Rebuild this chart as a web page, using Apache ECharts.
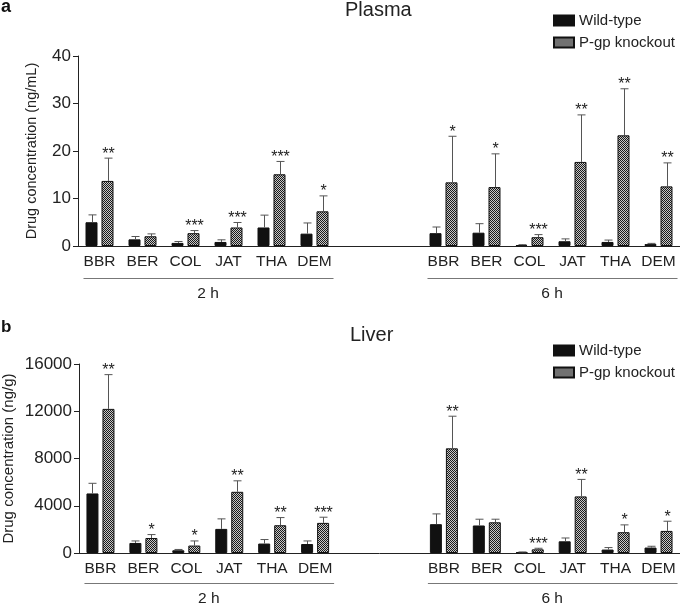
<!DOCTYPE html>
<html><head><meta charset="utf-8">
<script src="https://cdn.jsdelivr.net/npm/echarts@6/dist/echarts.min.js"></script>
<style>html,body{margin:0;padding:0;background:#fff}#c{width:680px;height:603px}</style>
</head><body><div id="c"></div>
<script>
// ---------- data ----------
const drugs = ['BBR', 'BER', 'COL', 'JAT', 'THA', 'DEM'];
const timeLabels = ['2 h', '6 h'];
const seriesNames = ['Wild-type', 'P-gp knockout'];

const plasmaYTicks = [0, 10, 20, 30, 40];
const liverYTicks = [0, 4000, 8000, 12000, 16000];

// Plasma (ng/mL): mean and SD
const plasmaWT2h = [5.0, 1.4, 0.65, 0.85, 3.9, 2.6];
const plasmaWT2hSD = [1.55, 0.6, 0.3, 0.45, 2.6, 2.25];
const plasmaKO2h = [13.7, 2.05, 2.7, 3.9, 15.1, 7.3];
const plasmaKO2hSD = [4.8, 0.5, 0.55, 1.05, 2.7, 3.25];
const plasmaWT6h = [2.7, 2.8, 0.2, 1.0, 0.85, 0.4];
const plasmaWT6hSD = [1.3, 1.9, 0.08, 0.5, 0.4, 0.15];
const plasmaKO6h = [13.4, 12.4, 1.85, 17.7, 23.3, 12.55];
const plasmaKO6hSD = [9.7, 7.0, 0.55, 9.9, 9.8, 4.95];
const plasmaSig2h = ['**', '', '***', '***', '***', '*'];
const plasmaSig6h = ['*', '*', '***', '**', '**', '**'];

// Liver (ng/g): mean and SD
const liverWT2h = [5040, 850, 230, 2040, 800, 760];
const liverWT2hSD = [860, 170, 70, 850, 340, 260];
const liverKO2h = [12200, 1270, 630, 5180, 2350, 2550];
const liverKO2hSD = [2900, 290, 390, 930, 650, 480];
const liverWT6h = [2440, 2330, 60, 990, 290, 460];
const liverWT6hSD = [870, 530, 30, 280, 170, 110];
const liverKO6h = [8860, 2600, 310, 4790, 1760, 1870];
const liverKO6hSD = [2720, 260, 90, 1440, 620, 820];
const liverSig2h = ['**', '*', '*', '**', '**', '***'];
const liverSig6h = ['**', '', '***', '**', '*', '*'];

// ---------- helpers ----------
const FONT = '"Liberation Sans", Arial, sans-serif';
const GAP = 2;
const axisData = [
  ...drugs.map(d => d + '|' + timeLabels[0]),
  ...Array.from({length: GAP}, (_, i) => 'gap|' + i),
  ...drugs.map(d => d + '|' + timeLabels[1])
];
const withGap = (a, b) => [...a, ...Array(GAP).fill('-'), ...b];

function makePattern() {
  const c = document.createElement('canvas');
  c.width = 2; c.height = 2;
  const ctx = c.getContext('2d');
  ctx.fillStyle = '#c8c8c8'; ctx.fillRect(0, 0, 2, 2);
  ctx.fillStyle = '#1a1a1a'; ctx.fillRect(0, 0, 1, 1); ctx.fillRect(1, 1, 1, 1);
  return c;
}
const pattern = {image: makePattern(), repeat: 'repeat'};

function errSeries(gi, mean2, sd2, mean6, sd6, sig2, sig6, side) {
  const data = [], meta = [];
  const push = (m, s, g, off) => m.forEach((v, i) => {
    data.push([i + off, v, s[i]]);
    meta.push(g[i]);
  });
  push(mean2, sd2, sig2, 0);
  push(mean6, sd6, sig6, drugs.length + GAP);
  return {
    type: 'custom', xAxisIndex: gi, yAxisIndex: gi, z: 5, silent: true,
    encode: {x: 0, y: 1}, data: data, clip: false,
    renderItem: function (params, api) {
      const top = api.coord([api.value(0), api.value(1) + api.value(2)]);
      const base = api.coord([api.value(0), api.value(1)]);
      const x = Math.round(top[0] + side * 8) + 0.5;
      const children = [
        {type: 'line', shape: {x1: x, y1: base[1], x2: x, y2: top[1]}, style: {stroke: '#555', lineWidth: 1}},
        {type: 'line', shape: {x1: x - 4, y1: top[1], x2: x + 4, y2: top[1]}, style: {stroke: '#555', lineWidth: 1}}
      ];
      const s = meta[params.dataIndex];
      if (s) children.push({type: 'text', x: x, y: top[1] - 4,
        style: {text: s, fontSize: 16, fontFamily: FONT, fill: '#222', align: 'center', verticalAlign: 'middle'}});
      return {type: 'group', children: children};
    }
  };
}

function barSeries(gi, name, a, b) {
  const ko = name === seriesNames[1];
  return {
    type: 'bar', name: name, xAxisIndex: gi, yAxisIndex: gi,
    data: withGap(a, b), barWidth: 12, barGap: '33.3%',
    itemStyle: {color: ko ? pattern : '#111', borderColor: '#111', borderWidth: 1},
    emphasis: {disabled: true}
  };
}

function xAxis(gi) {
  return {
    type: 'category', gridIndex: gi, data: axisData,
    axisLine: {lineStyle: {color: '#222', width: 1}},
    axisTick: {alignWithLabel: true, length: 5, lineStyle: {color: '#222'},
      interval: (i, v) => !String(v).startsWith('gap')},
    axisLabel: {interval: 0, margin: 8, fontSize: 15.5, fontFamily: FONT, color: '#222',
      formatter: v => v.startsWith('gap') ? '' : v.split('|')[0]}
  };
}
function yAxis(gi, ticks, name, nameGap, nameSize) {
  return {
    type: 'value', gridIndex: gi, min: ticks[0], max: ticks[ticks.length - 1],
    interval: ticks[1] - ticks[0],
    name: name, nameLocation: 'middle', nameRotate: 90, nameGap: nameGap,
    nameMoveOverlap: false,
    nameTextStyle: {fontSize: nameSize, fontFamily: FONT, color: '#222'},
    axisLine: {show: true, lineStyle: {color: '#222'}},
    axisTick: {show: true, length: 5, lineStyle: {color: '#222'}},
    axisLabel: {margin: 7, fontSize: 17, fontFamily: FONT, color: '#222', formatter: v => String(v)},
    splitLine: {show: false}
  };
}
function legend(top) {
  return {
    left: 553, top: top, orient: 'vertical', itemWidth: 20, itemHeight: 10, itemGap: 7,
    data: seriesNames.map(n => ({name: n, icon: 'rect'})), selectedMode: false, padding: 0,
    textStyle: {fontSize: 15, fontFamily: FONT, color: '#222'}
  };
}

const chart = echarts.init(document.getElementById('c'), null, {renderer: 'canvas'});
const option = {
  animation: false,
  backgroundColor: '#fff',
  title: [
    {text: 'a', left: 1, top: -2, padding: 0, textStyle: {fontSize: 18, fontWeight: 'bold', fontFamily: FONT, color: '#111'}},
    {text: 'Plasma', left: 345, top: 0, padding: 0, textStyle: {fontSize: 20, fontWeight: 'normal', fontFamily: FONT, color: '#222'}},
    {text: 'b', left: 1, top: 319, padding: 0, textStyle: {fontSize: 17, fontWeight: 'bold', fontFamily: FONT, color: '#111'}},
    {text: 'Liver', left: 350, top: 325, padding: 0, textStyle: {fontSize: 20, fontWeight: 'normal', fontFamily: FONT, color: '#222'}}
  ],
  legend: [legend(13), legend(343)],
  grid: [
    {left: 78, right: 0, top: 56, height: 190, containLabel: false, outerBoundsMode: 'none'},
    {left: 79, right: 0, top: 364, height: 189, containLabel: false, outerBoundsMode: 'none'}
  ],
  xAxis: [xAxis(0), xAxis(1)],
  yAxis: [
    yAxis(0, plasmaYTicks, 'Drug concentration (ng/mL)', 39, 14.5),
    yAxis(1, liverYTicks, 'Drug concentration (ng/g)', 63, 15)
  ],
  series: [
    barSeries(0, seriesNames[0], plasmaWT2h, plasmaWT6h),
    barSeries(0, seriesNames[1], plasmaKO2h, plasmaKO6h),
    errSeries(0, plasmaWT2h, plasmaWT2hSD, plasmaWT6h, plasmaWT6hSD, drugs.map(() => ''), drugs.map(() => ''), -1),
    errSeries(0, plasmaKO2h, plasmaKO2hSD, plasmaKO6h, plasmaKO6hSD, plasmaSig2h, plasmaSig6h, 1),
    barSeries(1, seriesNames[0], liverWT2h, liverWT6h),
    barSeries(1, seriesNames[1], liverKO2h, liverKO6h),
    errSeries(1, liverWT2h, liverWT2hSD, liverWT6h, liverWT6hSD, drugs.map(() => ''), drugs.map(() => ''), -1),
    errSeries(1, liverKO2h, liverKO2hSD, liverKO6h, liverKO6hSD, liverSig2h, liverSig6h, 1)
  ]
};
chart.setOption(option);

// group brackets under the category labels
const graphics = [];
[[0, 32], [1, 30]].forEach(([gi, dy]) => {
  const axisY = chart.convertToPixel({yAxisIndex: gi}, 0);
  timeLabels.forEach((t, k) => {
    const i0 = k * (drugs.length + GAP), i1 = i0 + drugs.length - 1;
    const xs = chart.convertToPixel({xAxisIndex: gi}, i0);
    const xe = chart.convertToPixel({xAxisIndex: gi}, i1);
    const y = Math.round(axisY + dy) + 0.5;
    graphics.push({type: 'line', shape: {x1: xs - 16, y1: y, x2: xe + 19, y2: y},
      style: {stroke: '#777', lineWidth: 1.2}, silent: true});
    graphics.push({type: 'text', x: (xs + xe) / 2 + 1, y: y + 15,
      style: {text: t, fontSize: 15.5, fontFamily: FONT, fill: '#222', align: 'center', verticalAlign: 'middle'}, silent: true});
  });
});
chart.setOption({graphic: graphics});
</script></body></html>
